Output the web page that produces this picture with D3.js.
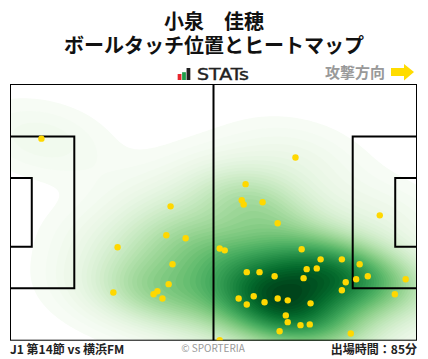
<!DOCTYPE html>
<html><head><meta charset="utf-8">
<script src="https://cdn.jsdelivr.net/npm/d3@7"></script>
<style>html,body{margin:0;padding:0;background:#fff}svg{display:block}</style></head>
<body><div id="c"></div>
<script>
const titleLines = ["小泉　佳穂", "ボールタッチ位置とヒートマップ"];
const footerLeft = "J1 第14節 vs 横浜FM";
const footerRight = "出場時間：85分";
const footerCenter = "© SPORTERIA";
const directionLabel = "攻撃方向";
const touchX = [8.0,41.4,40.3,45.3,27.7,41.9,40.9,26.6,38.0,37.0,39.3,73.7,60.8,59.8,60.3,65.2,69.1,95.5,54.1,55.4,75.3,80.2,85.7,90.3,76.6,79.2,61.1,64.4,68.3,75.8,92.4,89.4,86.7,102.2,85.7,99.4,59.0,62.9,61.1,65.7,69.1,71.7,77.6,71.2,71.7,75.0,77.4,69.6,88.0,54.1];
const touchY = [14.4,32.4,40.1,40.9,43.3,47.8,53.1,55.3,55.0,55.8,56.9,19.4,26.5,30.8,31.9,31.3,36.9,34.8,43.6,44.1,43.8,46.5,46.5,47.8,49.1,48.9,49.9,49.9,51.0,51.5,51.0,51.8,52.6,51.8,54.7,55.8,56.9,56.3,58.5,57.9,56.9,57.4,58.2,61.4,63.2,64.0,63.8,65.6,66.2,68.0];

const W = 428, H = 359;
const x = d3.scaleLinear().domain([0,105]).range([10.5,416.5]);
const y = d3.scaleLinear().domain([0,68]).range([84.5,340.2]);
const svg = d3.select("#c").append("svg").attr("width",W).attr("height",H).attr("viewBox",`0 0 ${W} ${H}`);
const CJK = "'Noto Sans CJK JP','Noto Sans',sans-serif";

const title = svg.append("text").attr("text-anchor","middle")
  .attr("font-family",CJK).attr("font-weight",700).attr("font-size",20).attr("fill","#111");
titleLines.forEach((t,i)=>title.append("tspan").attr("x",214).attr("y",29+i*24).text(t));

// logo
const logoVals = [0.5,0.65,1], logoCols = ["#e8262d","#1f9e4a","#222"];
const logoY = d3.scaleLinear().domain([0,1]).range([80,68]);
const logoX = d3.scaleBand().domain([0,1,2]).range([177,191]).padding(0.15);
logoVals.forEach((v,i)=>svg.append("rect").attr("x",logoX(i)).attr("width",logoX.bandwidth())
  .attr("y",logoY(v)).attr("height",80-logoY(v)).attr("fill",logoCols[i]));
svg.append("text").attr("x",197).attr("y",79.5).attr("font-family","'DejaVu Sans',sans-serif").attr("font-weight",400)
  .attr("font-size",15).attr("fill","#222").attr("stroke","#222").attr("stroke-width",0.4)
  .attr("textLength",52).attr("lengthAdjust","spacingAndGlyphs").text("STATs");
svg.append("text").attr("x",325).attr("y",77.5).attr("font-family",CJK).attr("font-weight",700).attr("font-size",15)
  .attr("fill","#999").text(directionLabel);
svg.append("path").attr("d","M391,68H404V64L414,72L404,80.5V76H391Z").attr("fill","#ffdc00");

// KDE with full covariance (Scott)
const px = touchX.map(x), py = touchY.map(y), n = px.length;
const mx = d3.mean(px), my = d3.mean(py);
const sxx = d3.variance(px), syy = d3.variance(py);
const sxy = d3.sum(px,(v,i)=>(v-mx)*(py[i]-my))/(n-1);
const f2 = Math.pow(n,-1/3) * 1.2;
const a = sxx*f2, b = sxy*f2, d = syy*f2, det = a*d-b*b;
const ia = d/det, ib = -b/det, id = a/det;
const step = 2, gw = Math.ceil(W/step)+1, gh = Math.ceil(H/step)+1;
const grid = new Float64Array(gw*gh);
for (let j=0;j<gh;j++) for (let i=0;i<gw;i++){
  let s=0; const X=i*step, Y=j*step;
  for (let k=0;k<n;k++){ const dx=X-px[k], dy=Y-py[k];
    s+=Math.exp(-0.5*(ia*dx*dx+2*ib*dx*dy+id*dy*dy)); }
  grid[j*gw+i]=s;
}
let maxV=0; for (let j=0;j<gh;j++) for (let i=0;i<gw;i++){
  const X=i*step,Y=j*step; if(X>=10&&X<=416&&Y>=84&&Y<=341&&grid[j*gw+i]>maxV)maxV=grid[j*gw+i]; }
const levels = 50, low = maxV*0.02;
const thresholds = d3.range(levels).map(i=>low+(maxV-low)*i/levels);
const color = d3.scaleSequential(d3.interpolateGreens).domain([low,maxV*0.98]);
svg.append("clipPath").attr("id","pc").append("rect").attr("x",x(0)).attr("y",y(0)).attr("width",x(105)-x(0)).attr("height",y(68)-y(0));
const path = d3.geoPath(d3.geoIdentity().scale(step));
svg.append("g").attr("clip-path","url(#pc)").selectAll("path")
  .data(d3.contours().size([gw,gh]).thresholds(thresholds)(Array.from(grid)))
  .join("path").attr("d",path).attr("fill",c=>color(c.value));

// pitch
const lines = svg.append("g").attr("fill","none").attr("stroke","#000");
const boxes = [[0,16.5,13.84,54.16],[0,5.5,24.84,43.16],[88.5,105,13.84,54.16],[99.5,105,24.84,43.16]];
boxes.forEach(b=>{
  const open = b[0]===0 ? `M${x(b[0])},${y(b[2])}H${x(b[1])}V${y(b[3])}H${x(b[0])}` : `M${x(b[1])},${y(b[2])}H${x(b[0])}V${y(b[3])}H${x(b[1])}`;
  lines.append("path").attr("d",open).attr("stroke-width",2);
});
lines.append("line").attr("x1",x(52.5)).attr("x2",x(52.5)).attr("y1",y(0)).attr("y2",y(68)).attr("stroke-width",2);

// points
svg.append("g").attr("clip-path","url(#pc)").selectAll("circle").data(touchX).join("circle")
  .attr("cx",d=>x(d)).attr("cy",(d,i)=>y(touchY[i])).attr("r",3.2).attr("fill","#ffd800");
lines.append("rect").attr("x",x(0)).attr("y",y(0)).attr("width",x(105)-x(0)).attr("height",y(68)-y(0)).attr("stroke-width",1);

// footer
svg.append("text").attr("x",10).attr("y",354).attr("font-family",CJK).attr("font-weight",700).attr("font-size",12).attr("fill","#222").text(footerLeft);
svg.append("text").attr("x",213).attr("y",352).attr("text-anchor","middle").attr("font-family",CJK).attr("font-size",10).attr("fill","#999").text(footerCenter);
svg.append("text").attr("x",417).attr("y",354).attr("text-anchor","end").attr("font-family",CJK).attr("font-weight",700).attr("font-size",12).attr("fill","#222").text(footerRight);
</script></body></html>
